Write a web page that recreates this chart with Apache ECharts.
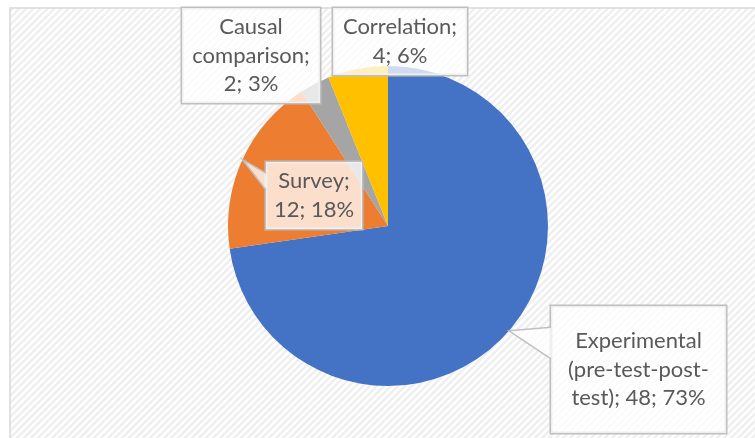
<!DOCTYPE html>
<html>
<head>
<meta charset="utf-8">
<script src="https://cdn.jsdelivr.net/npm/echarts@6/dist/echarts.min.js"></script>
<style>
html, body { margin: 0; padding: 0; background: #ffffff; }
#chart { width: 755px; height: 438px; }
</style>
</head>
<body>
<div id="chart"></div>
<script>
// ---- data ----
const categories = ['Experimental (pre-test-post-test)', 'Survey', 'Causal comparison', 'Correlation'];
const values = [48, 12, 2, 4];
// how each category name wraps in its data label ("\n" at end = value on next line)
const nameWraps = ['Experimental\n(pre-test-post-\ntest);', 'Survey;\n', 'Causal\ncomparison;\n', 'Correlation;\n'];

// ---- styling / layout ----
const colors = ['#4472C4', '#ED7D31', '#A5A5A5', '#FFC000'];
const labelBoxes = [
  { x: 551, y: 306, w: 175, h: 127 },
  { x: 266, y: 162, w: 96, h: 67 },
  { x: 182, y: 8, w: 138, h: 95 },
  { x: 333, y: 8, w: 134, h: 67 }
];
const LH = 28.5;
const BOX_FILL = 'rgba(255,255,255,0.75)';
const BOX_STROKE = '#bfbfbf';

function makePattern() {
  const s = 7;
  const c = document.createElement('canvas');
  c.width = s; c.height = s;
  const g = c.getContext('2d');
  g.fillStyle = '#ffffff';
  g.fillRect(0, 0, s, s);
  g.strokeStyle = '#efefef';
  g.lineWidth = 2.6;
  [0, s, 2 * s].forEach(function (k) {
    g.beginPath();
    g.moveTo(-1, k + 1);
    g.lineTo(k + 1, -1);
    g.stroke();
  });
  return c;
}

// Excel-style wedge callout: tail base on the box side facing the tip
function calloutTail(tip, b) {
  const hc = b.x + b.w / 2, vc = b.y + b.h / 2;
  const dx = tip[0] - hc, dy = tip[1] - vc;
  if (tip[0] >= b.x && tip[0] <= b.x + b.w && tip[1] >= b.y && tip[1] <= b.y + b.h) {
    return null;
  }
  const dq = dx * b.h / b.w;
  if (Math.abs(dy) - Math.abs(dq) < 0) {
    const side = dx < 0 ? b.x : b.x + b.w;
    const y1 = b.y + b.h * (dy > 0 ? 7 : 2) / 12;
    const y2 = b.y + b.h * (dy > 0 ? 10 : 5) / 12;
    return [[side, y1], tip, [side, y2]];
  } else {
    const side = dy < 0 ? b.y : b.y + b.h;
    const x1 = b.x + b.w * (dx > 0 ? 7 : 2) / 12;
    const x2 = b.x + b.w * (dx > 0 ? 10 : 5) / 12;
    return [[x1, side], tip, [x2, side]];
  }
}

function labelText(i, value, percent) {
  const w = nameWraps[i];
  return w + (w.endsWith('\n') ? '' : ' ') + value + '; ' + percent + '%';
}

const total = values.reduce(function (a, b) { return a + b; }, 0);
const seriesData = categories.map(function (name, i) {
  const pct = Math.round(values[i] / total * 100);
  const nLines = labelText(i, values[i], pct).split('\n').length;
  const pad = (labelBoxes[i].h - nLines * LH) / 2;
  return {
    name: name,
    value: values[i],
    itemStyle: { color: colors[i] },
    label: { width: labelBoxes[i].w, padding: [pad + 2.5, 0, pad - 2.5, 0] }
  };
});

const bgGraphic = {
  id: 'bg',
  type: 'rect',
  z: 0,
  silent: true,
  shape: { x: 10, y: 8, width: 760, height: 450 },
  style: {
    fill: { image: makePattern(), repeat: 'repeat' },
    stroke: '#d9d9d9',
    lineWidth: 1.5
  }
};

const chart = echarts.init(document.getElementById('chart'), null, { renderer: 'canvas' });
chart.setOption({
  animation: false,
  backgroundColor: '#ffffff',
  graphic: [bgGraphic],
  series: [
    {
      type: 'pie',
      center: [388, 226],
      radius: 160,
      startAngle: 90,
      clockwise: true,
      avoidLabelOverlap: false,
      percentPrecision: 0,
      itemStyle: { borderWidth: 0 },
      emphasis: { disabled: true },
      label: {
        show: true,
        position: 'outside',
        fontFamily: 'Lato',
        fontSize: 22,
        lineHeight: LH,
        color: '#595959',
        align: 'center',
        backgroundColor: BOX_FILL,
        borderColor: BOX_STROKE,
        borderWidth: 1.5,
        formatter: function (p) {
          return labelText(p.dataIndex, p.value, p.percent);
        }
      },
      labelLine: { show: false },
      labelLayout: function (params) {
        const b = labelBoxes[params.dataIndex];
        return {
          x: b.x + b.w / 2,
          y: b.y + b.h / 2,
          align: 'center',
          verticalAlign: 'middle'
        };
      },
      data: seriesData
    }
  ]
});

// callout tails: tip at the slice's outer edge, mid-angle, taken from the pie's own layout
const pieData = chart.getModel().getSeriesByIndex(0).getData();
const tailGraphics = [];
for (let i = 0; i < pieData.count(); i++) {
  const L = pieData.getItemLayout(i);
  const mid = (L.startAngle + L.endAngle) / 2;
  const tip = [L.cx + L.r * Math.cos(mid), L.cy + L.r * Math.sin(mid)];
  const pts = calloutTail(tip, labelBoxes[i]);
  if (!pts) continue;
  tailGraphics.push({
    id: 'tailFill' + i, type: 'polygon', z: 5, silent: true,
    shape: { points: pts },
    style: { fill: BOX_FILL, stroke: null }
  });
  tailGraphics.push({
    id: 'tailLine' + i, type: 'polyline', z: 5, silent: true,
    shape: { points: pts },
    style: { stroke: BOX_STROKE, lineWidth: 1.5, fill: null }
  });
}
chart.setOption({ graphic: [bgGraphic].concat(tailGraphics) });
</script>
</body>
</html>
